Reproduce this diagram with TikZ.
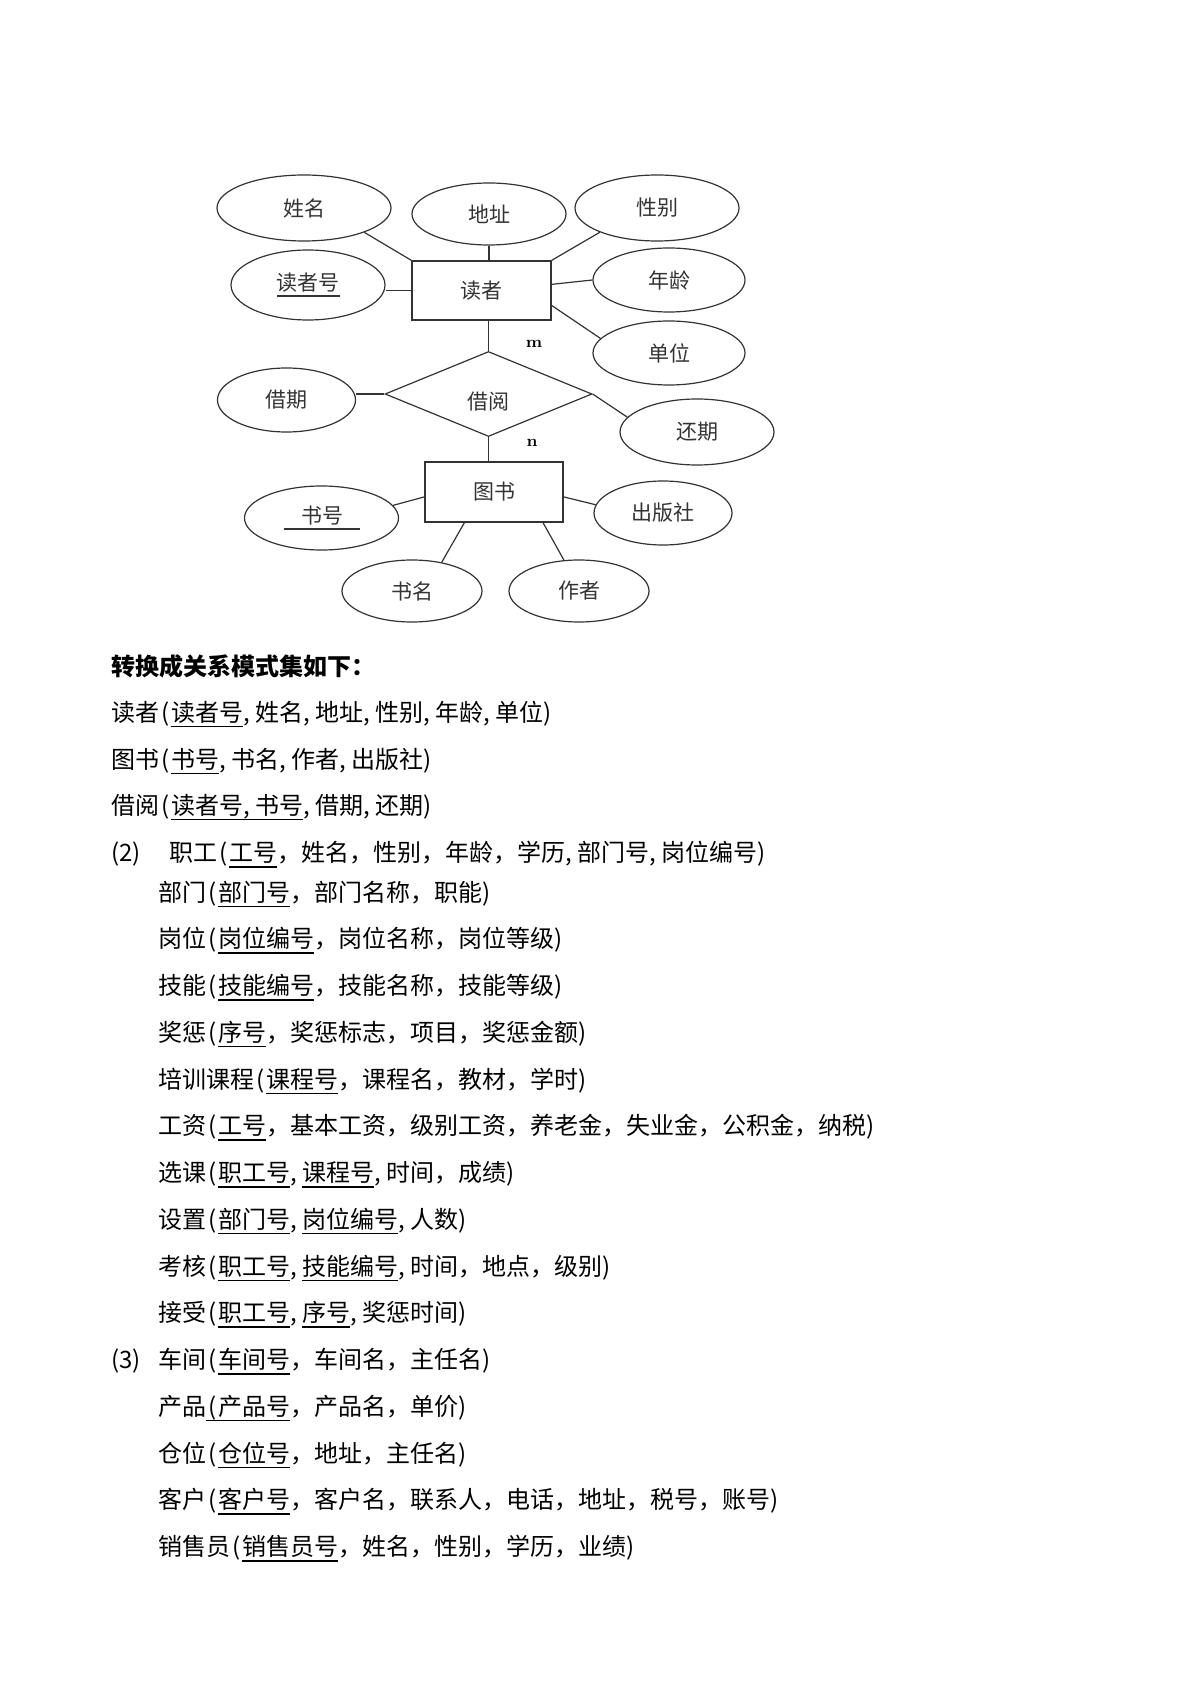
\documentclass[tikz,border=0pt]{standalone}
\usepackage{fontspec}
\usepackage{tikz}
\usetikzlibrary{shapes.geometric}
\newfontfamily\cjk{Noto Sans CJK SC}
% half-width punctuation
\newcommand*{\hcomma}{\makebox[.5em][l]{,}}
\newcommand*{\hlp}{\makebox[.5em][c]{(}}
\newcommand*{\hrp}{\makebox[.5em][l]{)}}
% key attributes are underlined
\newcommand*{\ukey}[1]{%
  \setbox0\hbox{#1}%
  \rlap{\rule[-3pt]{\wd0}{0.7pt}}\box0%
}

\begin{document}
\begin{tikzpicture}[x=0.5pt, y=-0.5pt,
  attr/.style={ellipse, draw=black!80, line width=0.6pt, inner sep=0pt,
    minimum width=76pt, minimum height=32pt,
    font=\cjk\fontsize{10.5}{12}\selectfont, text=black!80},
  entity/.style={rectangle, draw=black!80, line width=0.6pt, inner sep=0pt,
    minimum width=69.5pt, minimum height=29.5pt,
    font=\cjk\fontsize{10.5}{12}\selectfont, text=black!80},
  rel/.style={diamond, draw=black!80, line width=0.6pt, inner sep=0pt,
    minimum width=103.5pt, minimum height=42.5pt,
    font=\cjk\fontsize{10.5}{12}\selectfont, text=black!80},
  link/.style={draw=black!80, line width=0.6pt},
  card/.style={inner sep=0pt, font=\footnotesize\bfseries},
  row/.style={anchor=base west, inner sep=0pt, font=\cjk\fontsize{12}{14}\selectfont}]

\useasboundingbox (0,0) rectangle (1191,1684);

% E-R diagram
\node[entity] (duzhe) at (481.5,290.5) {读者};
\node[attr, minimum width=87pt, minimum height=33pt] (xingming) at (304,208) {姓名};
\node[attr, minimum width=77pt, minimum height=31pt] (dizhi) at (489,214) {地址};
\node[attr, minimum width=82pt, minimum height=33pt] (xingbie) at (657,208) {性别};
\node[attr, minimum width=77pt, minimum height=35pt] (duzhehao) at (308,285) {\ukey{读者号}};
\node[attr] (nianling) at (669,280) {年龄};
\node[attr] (danwei) at (669,353) {单位};

\node[rel] (jieyue) at (488.5,394) {\raisebox{-3pt}[9pt][0pt]{借阅}};
\node[attr, minimum width=69pt] (jieqi) at (286.5,400) {借期};
\node[attr, minimum width=77pt, minimum height=33pt] (huanqi) at (697,432) {还期};

\node[entity, minimum width=69pt, minimum height=30pt] (tushu) at (494,492) {图书};
\node[attr, minimum width=77pt] (shuhao) at (321.5,518) {\ukey{\hspace{9pt}书号\hspace{8pt}}};
\node[attr, minimum width=69pt] (chubanshe) at (663,513) {出版社};
\node[attr, minimum width=70pt, minimum height=31pt] (shuming) at (412,591) {书名};
\node[attr, minimum width=70pt, minimum height=31pt] (zuozhe) at (579,591) {作者};

\draw[link] (xingming.-22) -- (duzhe.north west);
\draw[link] (dizhi.south) -- (dizhi.south |- duzhe.north);
\draw[link] (xingbie.203) -- (duzhe.north east);
\draw[link] (duzhehao.east |- duzhe.west) -- (duzhe.west);
\draw[link] (nianling.west) -- (duzhe.5);
\draw[link] (danwei.168) -- (duzhe.-12);

\draw[link] (duzhe.south -| jieyue.north) -- (jieyue.north);
\draw[link] (jieqi.east |- jieyue.west) -- (jieyue.west);
\draw[link] (jieyue.east) -- (huanqi.168);
\draw[link] (jieyue.south) -- (jieyue.south |- tushu.north);

\draw[link] (shuhao.10) -- (tushu.184);
\draw[link] (chubanshe.173) -- (tushu.-4);
\draw[link] (shuming.44) -- (tushu.226);
\draw[link] (zuozhe.116) -- (tushu.-32);

\node[card] (m) at (534,344) {m};
\node[card] (n) at (532,443) {n};

% relation schemas
\node[row, font=\cjk\bfseries\fontsize{12}{14}\selectfont] (title) at (111,675.5) {转换成关系模式集如下：};
\node[row] (r1) at (111,721) {读者\hlp\ukey{读者号}\hcomma 姓名\hcomma 地址\hcomma 性别\hcomma 年龄\hcomma 单位\hrp};
\node[row] (r2) at (111,768) {图书\hlp\ukey{书号}\hcomma 书名\hcomma 作者\hcomma 出版社\hrp};
\node[row] (r3) at (111,814) {借阅\hlp\ukey{读者号\hcomma 书号}\hcomma 借期\hcomma 还期\hrp};

\node[row] (r4) at (111,861.5) {\makebox[29pt][l]{(2)}职工\hlp\ukey{工号}，姓名，性别，年龄，学历\hcomma 部门号\hcomma 岗位编号\hrp};
\node[row] (r5) at (158,901) {部门\hlp\ukey{部门号}，部门名称，职能\hrp};
\node[row] (r6) at (158,947.75) {岗位\hlp\ukey{岗位编号}，岗位名称，岗位等级\hrp};
\node[row] (r7) at (158,994.5) {技能\hlp\ukey{技能编号}，技能名称，技能等级\hrp};
\node[row] (r8) at (158,1041.25) {奖惩\hlp\ukey{序号}，奖惩标志，项目，奖惩金额\hrp};
\node[row] (r9) at (158,1088) {培训课程\hlp\ukey{课程号}，课程名，教材，学时\hrp};
\node[row] (r10) at (158,1134.75) {工资\hlp\ukey{工号}，基本工资，级别工资，养老金，失业金，公积金，纳税\hrp};
\node[row] (r11) at (158,1181.5) {选课\hlp\ukey{职工号}\hcomma\ukey{课程号}\hcomma 时间，成绩\hrp};
\node[row] (r12) at (158,1228.25) {设置\hlp\ukey{部门号}\hcomma\ukey{岗位编号}\hcomma 人数\hrp};
\node[row] (r13) at (158,1275) {考核\hlp\ukey{职工号}\hcomma\ukey{技能编号}\hcomma 时间，地点，级别\hrp};
\node[row] (r14) at (158,1321.75) {接受\hlp\ukey{职工号}\hcomma\ukey{序号}\hcomma 奖惩时间\hrp};

\node[row] (r15) at (111,1368.5) {\makebox[23.5pt][l]{(3)}车间\hlp\ukey{车间号}，车间名，主任名\hrp};
\node[row] (r16) at (158,1415.25) {产品\ukey{\hlp 产品号}，产品名，单价\hrp};
\node[row] (r17) at (158,1462) {仓位\hlp\ukey{仓位号}，地址，主任名\hrp};
\node[row] (r18) at (158,1508.75) {客户\hlp\ukey{客户号}，客户名，联系人，电话，地址，税号，账号\hrp};
\node[row] (r19) at (158,1555.5) {销售员\hlp\ukey{销售员号}，姓名，性别，学历，业绩\hrp};
\end{tikzpicture}
\end{document}
